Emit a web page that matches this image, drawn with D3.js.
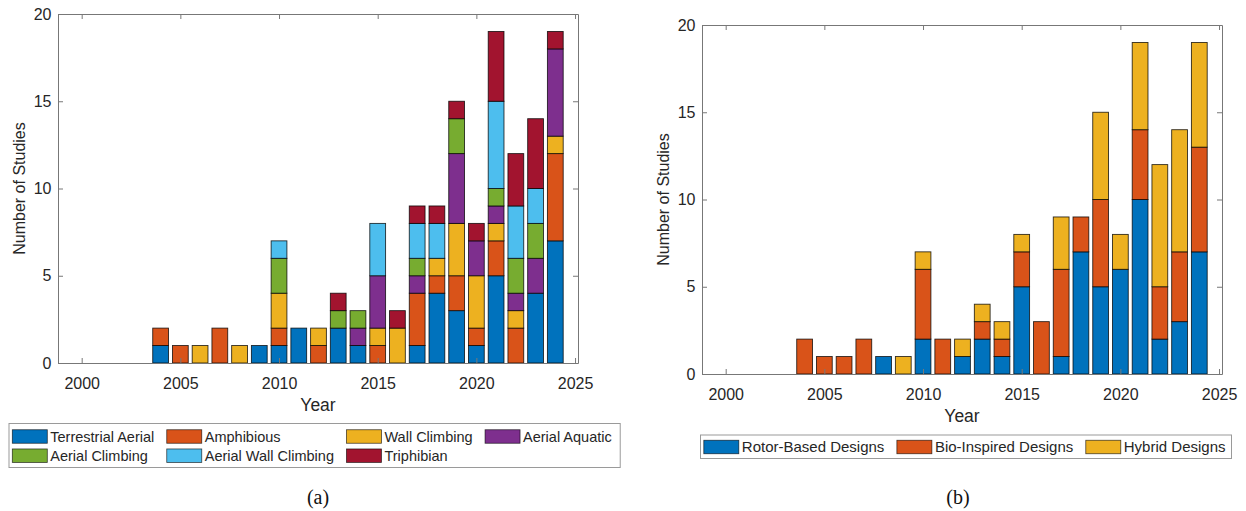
<!DOCTYPE html>
<html>
<head>
<meta charset="utf-8">
<script src="https://cdn.jsdelivr.net/npm/d3@7"></script>
<style>
	body { margin: 0; background: #fff; }
	svg text { font-family: 'Liberation Sans', Arial, Helvetica, sans-serif; fill: #262626; }
	svg text.caption { font-family: 'Liberation Serif', 'Times New Roman', serif; fill: #111; }
</style>
</head>
<body>
<svg id="chart" width="1246" height="511"></svg>
<script>
// Years on the x axis (2000 - 2024)
const years = [2000, 2001, 2002, 2003, 2004, 2005, 2006, 2007, 2008, 2009,
	2010, 2011, 2012, 2013, 2014, 2015, 2016, 2017, 2018, 2019,
	2020, 2021, 2022, 2023, 2024];

// (a) locomotion categories
const namesA = ['Terrestrial Aerial', 'Amphibious', 'Wall Climbing', 'Aerial Aquatic',
	'Aerial Climbing', 'Aerial Wall Climbing', 'Triphibian'];
const terrestrialAerial  = [0,0,0,0, 1,0,0,0,0,1, 1,2,0,2,1, 0,0,1,4,3, 1,5,0,4,7];
const amphibious         = [0,0,0,0, 1,1,0,2,0,0, 1,0,1,0,0, 1,0,3,1,2, 1,2,2,0,5];
const wallClimbing       = [0,0,0,0, 0,0,1,0,1,0, 2,0,1,0,0, 1,2,0,1,3, 3,1,1,0,1];
const aerialAquatic      = [0,0,0,0, 0,0,0,0,0,0, 0,0,0,0,1, 3,0,1,0,4, 2,1,1,2,5];
const aerialClimbing     = [0,0,0,0, 0,0,0,0,0,0, 2,0,0,1,1, 0,0,1,0,2, 0,1,2,2,0];
const aerialWallClimbing = [0,0,0,0, 0,0,0,0,0,0, 1,0,0,0,0, 3,0,2,2,0, 0,5,3,2,0];
const triphibian         = [0,0,0,0, 0,0,0,0,0,0, 0,0,0,1,0, 0,1,1,1,1, 1,4,3,4,1];

// (b) design categories
const namesB = ['Rotor-Based Designs', 'Bio-Inspired Designs', 'Hybrid Designs'];
const rotorBased  = [0,0,0,0, 0,0,0,0,1,0, 2,0,1,2,1, 5,0,1,7,5, 6,10,2,3,7];
const bioInspired = [0,0,0,0, 2,1,1,2,0,0, 4,2,0,1,1, 2,3,5,2,5, 0,4,3,4,6];
const hybrid      = [0,0,0,0, 0,0,0,0,0,1, 1,0,1,1,1, 1,0,3,0,5, 2,5,7,7,6];

const yTicks = [0, 5, 10, 15, 20];
const xTicks = [2000, 2005, 2010, 2015, 2020, 2025];

const colors = ['#0072BD', '#D95319', '#EDB120', '#7E2F8E', '#77AC30', '#4DBEEE', '#A2142F'];

const svg = d3.select('svg#chart');
svg.append('rect').attr('width', 1246).attr('height', 511).attr('fill', '#fff');

function drawPanel(props) {
	const { left, top, width, height, names, series } = props;
	const g = svg.append('g').attr('transform', `translate(${left},${top})`);

	const x = d3.scaleLinear().domain([1998.8, 2025.15]).range([0, width]);
	const y = d3.scaleLinear().domain([0, 20]).range([height, 0]);

	const table = years.map((yr, i) => {
		const row = { year: yr };
		names.forEach((n, j) => { row[n] = series[j][i]; });
		return row;
	});
	const stacked = d3.stack().keys(names)(table);
	const bw = 0.8 * (x(2001) - x(2000));

	g.selectAll('g.layer').data(stacked)
		.enter().append('g')
			.attr('class', 'layer')
			.attr('fill', (d, i) => colors[i])
		.selectAll('rect').data(d => d.filter(s => s[1] > s[0]))
		.enter().append('rect')
			.attr('x', d => x(d.data.year) - bw / 2)
			.attr('y', d => y(d[1]))
			.attr('width', bw)
			.attr('height', d => y(d[0]) - y(d[1]))
			.attr('stroke', '#000')
			.attr('stroke-opacity', 0.8)
			.attr('stroke-width', 0.9);

	// box with inward ticks on all four sides
	const axes = [
		{ gen: d3.axisBottom(x).tickValues(xTicks).tickFormat(d3.format('d')).tickPadding(15), t: `translate(0,${height})` },
		{ gen: d3.axisTop(x).tickValues(xTicks).tickFormat(''), t: 'translate(0,0)' },
		{ gen: d3.axisLeft(y).tickValues(yTicks).tickPadding(6.5), t: 'translate(0,0)' },
		{ gen: d3.axisRight(y).tickValues(yTicks).tickFormat(''), t: `translate(${width},0)` }
	];
	axes.forEach(a => {
		const ax = g.append('g').attr('transform', a.t)
			.call(a.gen.tickSizeInner(-5).tickSizeOuter(0));
		ax.select('.domain').attr('stroke', '#777');
		ax.selectAll('.tick line').attr('stroke', '#777');
		ax.selectAll('text').attr('font-size', 16).attr('fill', '#262626');
	});

	g.append('text')
		.attr('x', width / 2)
		.attr('y', height + 48)
		.attr('text-anchor', 'middle')
		.attr('font-size', 17.5)
		.text('Year');

	g.append('text')
		.attr('transform', `translate(-33,${height / 2}) rotate(-90)`)
		.attr('text-anchor', 'middle')
		.attr('font-size', 16)
		.text('Number of Studies');
}

function drawLegend(props) {
	const { x, y, h, rowY, cols, names, fontSize, pad } = props;
	const g = svg.append('g');
	const box = g.append('rect')
		.attr('x', x).attr('y', y).attr('height', h)
		.attr('fill', '#fff').attr('stroke', '#9a9a9a').attr('stroke-width', 1);

	const items = g.selectAll('g.item').data(names)
		.enter().append('g').attr('class', 'item');
	items.append('rect')
		.attr('width', 35).attr('height', 13.5)
		.attr('fill', (d, i) => colors[i])
		.attr('stroke', '#000').attr('stroke-opacity', 0.7).attr('stroke-width', 0.8);
	items.append('text')
		.attr('x', 38).attr('y', 6.75).attr('dy', '0.35em')
		.attr('font-size', fontSize)
		.text(d => d);

	// column widths from measured labels
	const widths = items.select('text').nodes().map(n => n.getComputedTextLength());
	const colW = [];
	widths.forEach((w, i) => {
		const c = i % cols;
		colW[c] = Math.max(colW[c] || 0, w);
	});
	const colX = [];
	let cx = x + 3.3;
	colW.forEach((w, c) => { colX[c] = cx; cx += 38 + w + 12.5; });

	items.attr('transform', (d, i) =>
		`translate(${colX[i % cols]},${rowY[Math.floor(i / cols)] - 6.75})`);
	box.attr('width', cx - 12.5 - x + pad);
}

drawPanel({
	left: 58, top: 14, width: 520, height: 349,
	names: namesA,
	series: [terrestrialAerial, amphibious, wallClimbing, aerialAquatic,
		aerialClimbing, aerialWallClimbing, triphibian]
});

drawPanel({
	left: 702, top: 25, width: 520, height: 349,
	names: namesB,
	series: [rotorBased, bioInspired, hybrid]
});

drawLegend({ x: 9, y: 423.5, h: 44, rowY: [436.5, 455.7], cols: 4, names: namesA, fontSize: 14.5, pad: 8.5 });
drawLegend({ x: 700.5, y: 435, h: 23.5, rowY: [447], cols: 3, names: namesB, fontSize: 15, pad: 6 });

svg.append('text').attr('class', 'caption')
	.attr('x', 318).attr('y', 504).attr('text-anchor', 'middle')
	.attr('font-size', 20).text('(a)');
svg.append('text').attr('class', 'caption')
	.attr('x', 958).attr('y', 504).attr('text-anchor', 'middle')
	.attr('font-size', 20).text('(b)');
</script>
</body>
</html>
